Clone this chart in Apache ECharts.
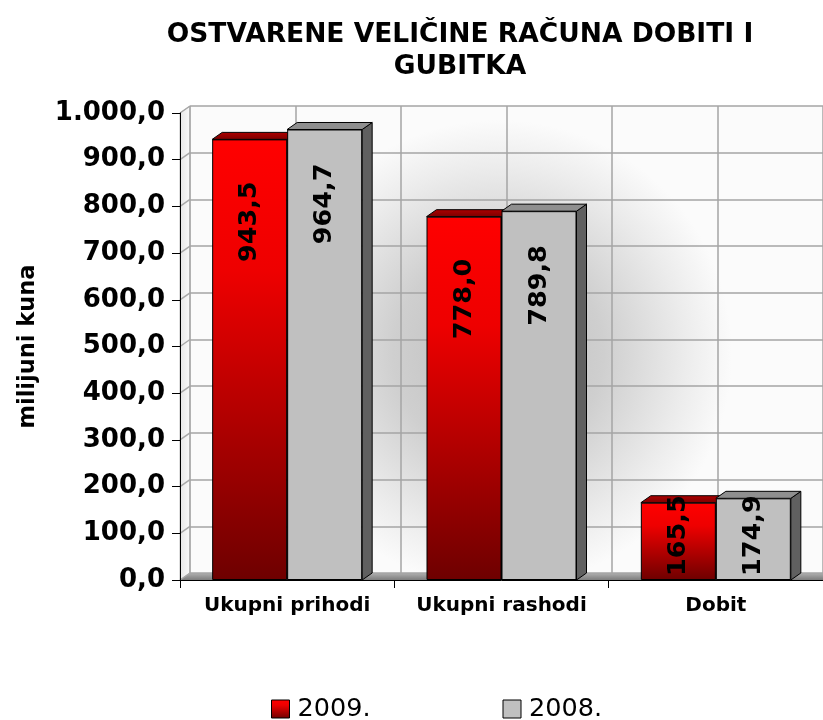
<!DOCTYPE html>
<html><head><meta charset="utf-8">
<script src="https://cdn.jsdelivr.net/npm/echarts@6/dist/echarts.min.js"></script>
<style>html,body{margin:0;padding:0;background:#fff}#c{width:823px;height:720px}</style>
</head><body><div id="c"></div>
<script>
// ---------- data ----------
const titleText = 'OSTVARENE VELIČINE RAČUNA DOBITI I\nGUBITKA';
const categories = ['Ukupni prihodi', 'Ukupni rashodi', 'Dobit'];
const seriesNames = ['2009.', '2008.'];
const values2009 = [943.5, 778.0, 165.5];
const values2008 = [964.7, 789.8, 174.9];
const yMin = 0, yMax = 1000, yStep = 100;
const yAxisName = 'milijuni kuna';

// ---------- style ----------
const FONT = '"DejaVu Sans", Verdana, sans-serif';
const DX = 10, DY = -7;          // 3D depth offset
const BAR_W = 75;
const GRID = {left: 180, top: 113, width: 650, height: 467};

function fmt(v) {
  const s = Number(v).toFixed(1).split('.');
  return s[0].replace(/\B(?=(\d{3})+(?!\d))/g, '.') + ',' + s[1];
}

const redGrad = {type: 'linear', x: 0, y: 0, x2: 0, y2: 1, colorStops: [
  {offset: 0, color: '#ff0000'}, {offset: 0.3, color: '#ee0000'}, {offset: 1, color: '#6e0000'}]};
const redTop = {type: 'linear', x: 0, y: 0, x2: 0, y2: 1, colorStops: [
  {offset: 0, color: '#b00000'}, {offset: 1, color: '#7a0000'}]};

function barSeries(name, data, color, z, dist) {
  return {
    type: 'bar', name, xAxisIndex: 0, yAxisIndex: 0, z,
    barWidth: BAR_W, barGap: '0%',
    data: data.map(v => ({value: v,
      label: v < 300 ? {position: 'insideBottom', align: 'left', distance: 4} : {}})),
    itemStyle: {color, borderColor: '#000', borderWidth: 1},
    label: {show: true, rotate: 90, position: 'insideTop', distance: dist,
      align: 'right', verticalAlign: 'middle',
      fontFamily: FONT, fontWeight: 'bold', fontSize: 25.5, color: '#000',
      formatter: p => fmt(p.value)}
  };
}

function extrSeries(data, side, topFill, z, left) {
  return {
    type: 'custom', xAxisIndex: 0, yAxisIndex: 0, z, silent: true,
    data: data.map((v, i) => [i, v]),
    renderItem(params, api) {
      const c = api.coord([api.value(0), api.value(1)]);
      const b = api.coord([api.value(0), 0]);
      const x0 = left ? c[0] - BAR_W : c[0], x1 = x0 + BAR_W;
      const yt = c[1], yb = b[1];
      return {type: 'group', children: [
        {type: 'polygon', shape: {points: [[x1, yt], [x1 + DX, yt + DY], [x1 + DX, yb + DY], [x1, yb]]},
          style: {fill: side, stroke: '#000', lineWidth: 1}},
        {type: 'polygon', shape: {points: [[x0, yt], [x0 + DX, yt + DY], [x1 + DX, yt + DY], [x1, yt]]},
          style: {fill: topFill, stroke: '#000', lineWidth: 1}}
      ]};
    }
  };
}

const wallSeries = {
  type: 'custom', xAxisIndex: 0, yAxisIndex: 0, z: -1, silent: true,
  data: [[0]],
  renderItem(params, api) {
    const bw = api.size([1, 0])[0];
    const L = api.coord([0, yMin])[0] - bw / 2;
    const R = api.coord([categories.length - 1, yMin])[0] + bw / 2;
    const B = api.coord([0, yMin])[1], T = api.coord([0, yMax])[1];
    const children = [
      {type: 'rect', shape: {x: L + DX, y: T + DY, width: R - L, height: B - T},
        style: {fill: {type: 'radial', x: 0.48, y: 0.53, r: 0.5, colorStops: [
          {offset: 0, color: '#bcbcbc'}, {offset: 0.45, color: '#cfcfcf'},
          {offset: 0.8, color: '#ececec'}, {offset: 1, color: '#fbfbfb'}]}}},
      {type: 'polygon', shape: {points: [[L, B], [L, T], [L + DX, T + DY], [L + DX, B + DY]]},
        style: {fill: {type: 'linear', x: 0, y: 0, x2: 1, y2: 0, colorStops: [
          {offset: 0, color: '#e6e6e6'}, {offset: 1, color: '#fafafa'}]}, stroke: '#bdbdbd', lineWidth: 1}},
      {type: 'polygon', shape: {points: [[L, B], [L + DX, B + DY], [R + DX, B + DY], [R, B]]},
        style: {fill: {type: 'linear', x: 0, y: 0, x2: 0, y2: 1, colorStops: [
          {offset: 0, color: '#b0b0b0'}, {offset: 1, color: '#7c7c7c'}]}}}
    ];
    for (let v = yMin; v <= yMax; v += yStep) {
      const y = api.coord([0, v])[1];
      children.push({type: 'line', shape: {x1: L, y1: y, x2: L + DX, y2: y + DY},
        style: {stroke: '#a8a8a8', lineWidth: 1.5}});
    }
    return {type: 'group', children};
  }
};

const chart = echarts.init(document.getElementById('c'));
chart.setOption({
  animation: false,
  backgroundColor: '#fff',
  title: {text: titleText, left: 455, top: 14, textAlign: 'center',
    textStyle: {fontFamily: FONT, fontWeight: 'bold', fontSize: 26.5, lineHeight: 32, color: '#000'}},
  legend: {data: seriesNames, left: 266, top: 691, itemWidth: 18, itemHeight: 18, itemGap: 132,
    icon: 'rect',
    itemStyle: {borderColor: '#000', borderWidth: 1},
    textStyle: {fontFamily: FONT, fontSize: 25.5, color: '#000', padding: [0, 0, 0, 3]}},
  grid: [
    Object.assign({}, GRID),
    {left: GRID.left + DX, top: GRID.top + DY, width: GRID.width, height: GRID.height}
  ],
  xAxis: [
    {type: 'category', gridIndex: 0, data: categories,
      axisLine: {lineStyle: {color: '#000', width: 1}},
      axisTick: {show: true, length: 8, lineStyle: {color: '#000'}},
      axisLabel: {interval: 0, fontFamily: FONT, fontWeight: 'bold', fontSize: 20, color: '#000', margin: 16},
      splitLine: {show: false}},
    {type: 'value', gridIndex: 1, min: 0, max: categories.length * 2, interval: 1,
      axisLine: {show: false}, axisTick: {show: false}, axisLabel: {show: false},
      splitLine: {show: true, lineStyle: {color: '#a4a4a4', width: 1.5}}}
  ],
  yAxis: [
    {type: 'value', gridIndex: 0, min: yMin, max: yMax, interval: yStep,
      axisLine: {show: true, lineStyle: {color: '#000', width: 1}},
      axisTick: {show: true, length: 8, lineStyle: {color: '#000'}},
      splitLine: {show: false},
      axisLabel: {fontFamily: FONT, fontWeight: 'bold', fontSize: 26, color: '#000', margin: 15, formatter: fmt},
      name: yAxisName, nameLocation: 'middle', nameRotate: 90, nameGap: 140,
      nameTextStyle: {fontFamily: FONT, fontWeight: 'bold', fontSize: 22.5, color: '#000'}},
    {type: 'value', gridIndex: 1, min: yMin, max: yMax, interval: yStep,
      axisLine: {show: false}, axisTick: {show: false}, axisLabel: {show: false},
      splitLine: {show: true, lineStyle: {color: '#a4a4a4', width: 1.5}}}
  ],
  series: [
    wallSeries,
    extrSeries(values2009, '#6a0000', redTop, 2, true),
    barSeries(seriesNames[0], values2009, redGrad, 3, 42),
    extrSeries(values2008, '#606060', '#8f8f8f', 4, false),
    barSeries(seriesNames[1], values2008, '#c0c0c0', 5, 34)
  ]
});
</script></body></html>
